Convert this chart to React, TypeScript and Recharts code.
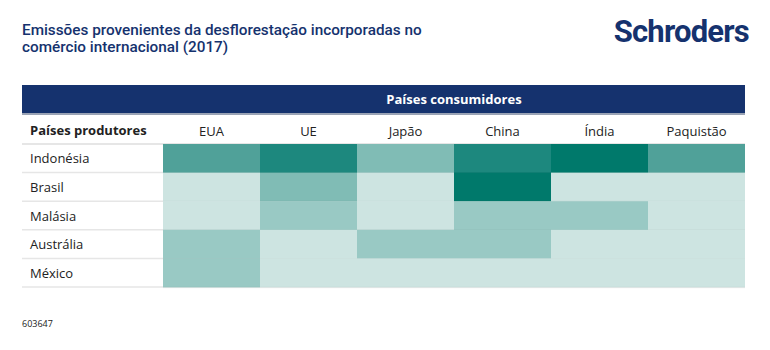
import { BarChart, Bar, XAxis, YAxis, Cell } from "recharts";

const producers = ["Indonésia", "Brasil", "Malásia", "Austrália", "México"];
const consumers = ["EUA", "UE", "Japão", "China", "Índia", "Paquistão"];

// intensity level per producer row, in consumer order (0 = lowest, 5 = highest)
const indonesia = [3, 4, 2, 4, 5, 3];
const brasil = [0, 2, 0, 5, 0, 0];
const malasia = [0, 1, 0, 1, 1, 0];
const australia = [1, 0, 1, 1, 0, 0];
const mexico = [1, 0, 0, 0, 0, 0];

const levels = [indonesia, brasil, malasia, australia, mexico];
const levelColors = ["#CDE4E1", "#99C9C4", "#80BCB5", "#50A199", "#1D887E", "#00796B"];

const navy = "#15326E";
const font = "'Open Sans', 'Segoe UI', sans-serif";

const data = producers.map((p) => {
  const row: Record<string, string | number> = { producer: p };
  consumers.forEach((c) => (row[c] = 1));
  return row;
});

const CellShape = (props: any) => {
  const { x, y, width, height, fill } = props;
  return (
    <g>
      <rect x={x} y={y} width={width} height={height} fill={fill} />
      <line x1={x} x2={x + width} y1={y + height} y2={y + height} stroke="rgba(0,0,0,0.06)" strokeWidth={1.5} />
    </g>
  );
};

const RowTick = (props: any) => {
  const { y, payload } = props;
  const half = 143 / producers.length / 2;
  return (
    <g>
      <text x={30} y={y} dy={5} fontSize={13} fill="#222" fontFamily={font}>
        {payload.value}
      </text>
      <line x1={22} x2={163} y1={y + half} y2={y + half} stroke="#e6e6e6" strokeWidth={1.5} />
    </g>
  );
};

const ColTick = (props: any) => {
  const { x, y, payload } = props;
  return (
    <text x={x} y={y} dy={-2} textAnchor="middle" fontSize={13} fill="#222" fontFamily={font}>
      {consumers[Math.floor(payload.value)]}
    </text>
  );
};

export default function App() {
  return (
    <div style={{ position: "absolute", left: 0, top: 0, width: 770, height: 350, background: "#fff", fontFamily: font }}>
      <div
        style={{
          position: "absolute",
          left: 22,
          top: 22,
          width: 440,
          fontFamily: "Roboto, sans-serif",
          fontSize: 15.3,
          fontWeight: 500,
          lineHeight: "17px",
          color: navy,
        }}
      >
        Emissões provenientes da desflorestação incorporadas no
        <br />
        comércio internacional (2017)
      </div>
      <div
        style={{
          position: "absolute",
          right: 21,
          top: 13,
          fontFamily: "Roboto, sans-serif",
          fontSize: 31,
          fontWeight: 700,
          letterSpacing: -0.8,
          color: navy,
        }}
      >
        Schroders
      </div>
      <div
        style={{
          position: "absolute",
          left: 22,
          top: 85,
          width: 723,
          height: 28,
          background: navy,
          borderBottom: "2px solid #9aa3b5",
          color: "#fff",
          fontSize: 13,
          fontWeight: 700,
          lineHeight: "28px",
        }}
      >
        <span style={{ position: "absolute", left: 141, width: 582, textAlign: "center" }}>Países consumidores</span>
      </div>
      <div style={{ position: "absolute", left: 30, top: 121, fontSize: 13, fontWeight: 700, color: "#222" }}>
        Países produtores
      </div>
      <div style={{ position: "absolute", left: 22, top: 143, width: 723, height: 1.5, background: "#e6e6e6" }} />
      <div style={{ position: "absolute", left: 22, top: 317, fontSize: 9, color: "#222" }}>603647</div>
      <BarChart
        width={770}
        height={350}
        data={data}
        layout="vertical"
        barCategoryGap={0}
        margin={{ top: 114, right: 25, bottom: 63, left: 22 }}
        style={{ position: "absolute", left: 0, top: 0 }}
      >
        <XAxis
          type="number"
          orientation="top"
          domain={[0, consumers.length]}
          ticks={consumers.map((_, i) => i + 0.5)}
          tick={<ColTick />}
          axisLine={false}
          tickLine={false}
          tickMargin={0}
          height={30}
          interval={0}
        />
        <YAxis
          type="category"
          dataKey="producer"
          width={141}
          axisLine={false}
          tickLine={false}
          tick={<RowTick />}
          interval={0}
        />
        {consumers.map((c, ci) => (
          <Bar key={c} dataKey={c} stackId="a" isAnimationActive={false} shape={<CellShape />}>
            {producers.map((p, ri) => (
              <Cell key={p} fill={levelColors[levels[ri][ci]]} />
            ))}
          </Bar>
        ))}
      </BarChart>
    </div>
  );
}
